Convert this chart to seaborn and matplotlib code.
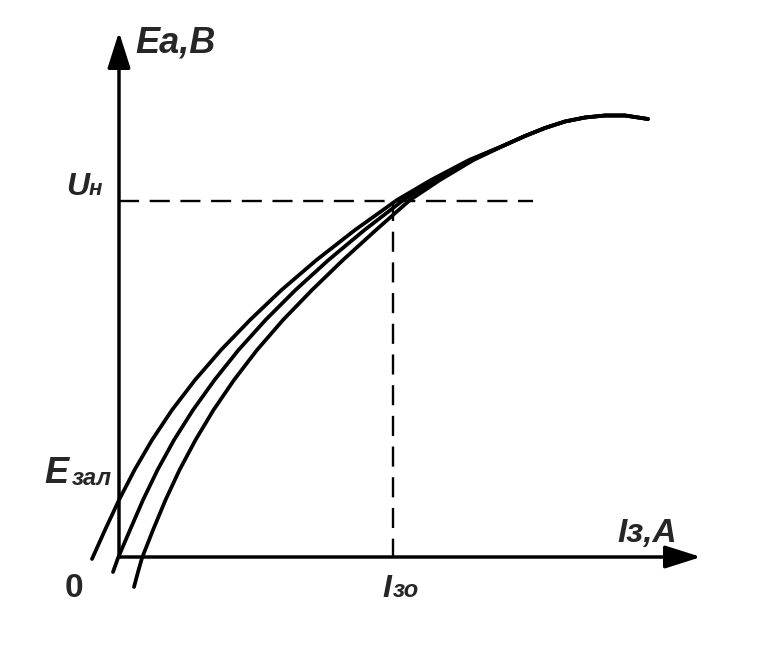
import numpy as np
import matplotlib
matplotlib.use('Agg')
import matplotlib.pyplot as plt
import seaborn as sns

# 데이터 (origin of the axes = 0, arbitrary units)
curve1_x = [-27, -14, 0, 15.5, 33, 53, 76, 102, 131, 162.5, 197.5, 236, 278, 312, 350, 386]
curve1_y = [-2, 27, 57, 87, 117, 147, 177, 207, 237, 267, 297, 327, 357, 377, 397, 412]

curve2_x = [-6, -1, 11, 24, 38.5, 55, 74, 95.5, 119.5, 146.5, 176.5, 209.5, 245.5, 284.5, 316, 351.5, 386]
curve2_y = [-15, -1, 27, 57, 87, 117, 147, 177, 207, 237, 267, 297, 327, 357, 377, 397, 412]

curve3_x = [15, 19, 23, 34, 46.5, 60.5, 76.5, 94.5, 115, 138, 164, 193, 224, 257, 291, 321, 354.5, 386]
curve3_y = [-30, -15, -1, 27, 57, 87, 117, 147, 177, 207, 237, 267, 297, 327, 357, 377, 397, 412]

# common saturated part
top_x = [386, 406, 426, 446, 466, 486, 506, 529]
top_y = [412, 421, 429, 435.5, 439.5, 441.5, 441.5, 438]

u_nom = 356      # Uн level
i_zo = 274       # Iзо
dash_end = 414
x_axis_end = 582
y_axis_end = 525

FONT = 'Liberation Sans'


def draw_axes(ax):
    arrow = dict(arrowstyle='-|>,head_length=1.1,head_width=0.35', lw=2.5,
                 color='black', mutation_scale=20, shrinkA=0, shrinkB=0)
    ax.annotate('', xy=(x_axis_end, 0), xytext=(0, 0), arrowprops=arrow)
    ax.annotate('', xy=(0, y_axis_end), xytext=(0, 0), arrowprops=arrow)


def draw_curves(ax):
    for cx, cy in [(curve1_x, curve1_y), (curve2_x, curve2_y), (curve3_x, curve3_y)]:
        df_x = list(cx) + top_x[1:]
        df_y = list(cy) + top_y[1:]
        sns.lineplot(x=df_x, y=df_y, sort=False, estimator=None, ax=ax,
                     color='black', lw=2.7, solid_capstyle='round',
                     solid_joinstyle='round')
    # 점선
    ax.plot([0, dash_end], [u_nom, u_nom], color='black', lw=1.7, dashes=(8.5, 4.5))
    ax.plot([i_zo, i_zo], [u_nom, 0], color='black', lw=1.7, dashes=(8.5, 4.5))


def put(ax, x, y, s, size, style='italic'):
    ax.text(x, y, s, fontsize=size, fontweight='bold', fontstyle=style,
            family=FONT, ha='left', va='baseline')


def draw_labels(ax):
    put(ax, 16, 504, 'Ea,В', 26)
    put(ax, -53, 362, 'U', 23)
    put(ax, -30, 362, 'н', 16)
    put(ax, -75, 74, 'E', 26)
    put(ax, -47, 72, 'зал', 17)
    put(ax, -54, -40, '0', 24, style='normal')
    put(ax, 498, 15, 'Iз,А', 24)
    put(ax, 263, -40, 'I', 23)
    put(ax, 274, -40, 'зо', 17)


def main():
    sns.set_style('white')
    fig = plt.figure(figsize=(7.69, 6.5), dpi=100)
    ax = fig.add_axes([0, 0, 1, 1])
    ax.set_xlim(-119, 650)
    ax.set_ylim(-93, 557)
    ax.axis('off')

    draw_axes(ax)
    draw_curves(ax)
    draw_labels(ax)

    fig.savefig('out.png', dpi=100, facecolor='white')


if __name__ == "__main__":
    main()
